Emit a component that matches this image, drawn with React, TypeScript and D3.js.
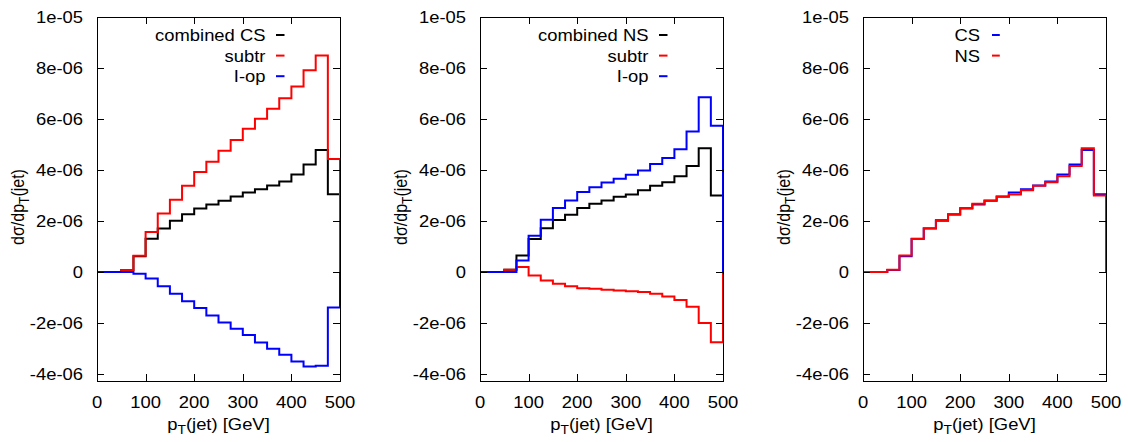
import React from 'react';
import * as d3 from 'd3';

const width = 1128;
const height = 442;
const plotTop = 17;
const plotBottom = 381;
const plotWidth = 243;
const panelLefts = [97, 480, 863];
const font = "'Liberation Sans', Arial, Helvetica, sans-serif";
const stretch = 1.15;

// lower edges of the 25 GeV bins
const binLow = [0, 25, 50, 75, 100, 125, 150, 175, 200, 225, 250, 275, 300, 325, 350, 375, 400, 425, 450, 475];
const binEnd = 500;

const xTicks = [0, 100, 200, 300, 400, 500];
const yTicks = [-4e-6, -2e-6, 0, 2e-6, 4e-6, 6e-6, 8e-6, 1e-5];
const yTickLabels = ['-4e-06', '-2e-06', '0', '2e-06', '4e-06', '6e-06', '8e-06', '1e-05'];

// values in units of 1e-6
const combinedCS = [0, 0, 0.08, 0.62, 1.31, 1.71, 2.01, 2.27, 2.49, 2.65, 2.8, 2.96, 3.12, 3.25, 3.39, 3.55, 3.83, 4.22, 4.79, 3.05];
const subtrCS = [0, 0, 0.08, 0.64, 1.57, 2.3, 2.84, 3.38, 3.92, 4.33, 4.76, 5.18, 5.62, 6.01, 6.4, 6.81, 7.28, 7.91, 8.49, 4.43];
const iopCS = [0, 0, 0, -0.07, -0.25, -0.56, -0.85, -1.14, -1.41, -1.7, -1.98, -2.22, -2.47, -2.76, -3.01, -3.24, -3.51, -3.7, -3.67, -1.39];

const combinedNS = [0, 0, 0.09, 0.65, 1.3, 1.72, 2.04, 2.25, 2.51, 2.68, 2.81, 2.95, 3.04, 3.21, 3.38, 3.52, 3.76, 4.16, 4.85, 3.0];
const subtrNS = [0, 0, 0.09, 0.2, -0.13, -0.33, -0.46, -0.56, -0.63, -0.65, -0.69, -0.72, -0.75, -0.78, -0.85, -0.96, -1.09, -1.36, -2.0, -2.75];
const iopNS = [0, 0, 0, 0.45, 1.42, 2.05, 2.51, 2.81, 3.14, 3.33, 3.51, 3.66, 3.82, 3.98, 4.24, 4.47, 4.82, 5.51, 6.85, 5.74];

const panels = [
  {
    legendEnd: 168.5, sampleStart: 179, sampleEnd: 187.5,
    series: [
      { name: 'combined CS', color: '#000000', values: combinedCS },
      { name: 'subtr', color: '#ff0000', values: subtrCS },
      { name: 'I-op', color: '#0000ff', values: iopCS },
    ],
  },
  {
    legendEnd: 168.5, sampleStart: 179, sampleEnd: 187.5,
    series: [
      { name: 'combined NS', color: '#000000', values: combinedNS },
      { name: 'subtr', color: '#ff0000', values: subtrNS },
      { name: 'I-op', color: '#0000ff', values: iopNS },
    ],
  },
  {
    legendEnd: 117, sampleStart: 129, sampleEnd: 136.8,
    series: [
      { name: 'CS', color: '#0000ff', values: combinedCS },
      { name: 'NS', color: '#ff0000', values: combinedNS },
    ],
  },
];

const yScale = d3.scaleLinear().domain([-4.27e-6, 1e-5]).range([plotBottom, plotTop]);

// horizontally stretched text, like the resized original
function Label({ x, y, anchor = 'start', rotate = false, children }: any) {
  return (
    <g transform={`translate(${x},${y}) scale(${stretch},1)${rotate ? ' rotate(-90)' : ''}`}>
      <text textAnchor={anchor} fontSize={16} fontFamily={font} fill="#000">{children}</text>
    </g>
  );
}

function Panel({ left, panel }: any) {
  const xScale = d3.scaleLinear().domain([0, binEnd]).range([left, left + plotWidth]);
  const line = d3.line<[number, number]>()
    .x(d => xScale(d[0]))
    .y(d => yScale(d[1]))
    .curve(d3.curveStepAfter);

  const right = left + plotWidth;
  const tick = 7;

  return (
    <g>
      {panel.series.map((s: any) => {
        const pts: [number, number][] = binLow.map((b, i) => [b, s.values[i] * 1e-6] as [number, number]);
        pts.push([binEnd, s.values[s.values.length - 1] * 1e-6]);
        pts.push([binEnd, 0]);
        return <path key={s.name} d={line(pts) || ''} fill="none" stroke={s.color} strokeWidth={2} />;
      })}

      {/* frame */}
      <rect x={left + 0.5} y={plotTop + 0.5} width={plotWidth} height={plotBottom - plotTop} fill="none" stroke="#000" strokeWidth={1} />

      {xTicks.map(t => (
        <g key={'x' + t}>
          <line x1={Math.round(xScale(t)) + 0.5} x2={Math.round(xScale(t)) + 0.5} y1={plotBottom} y2={plotBottom - tick} stroke="#000" />
          <line x1={Math.round(xScale(t)) + 0.5} x2={Math.round(xScale(t)) + 0.5} y1={plotTop} y2={plotTop + tick} stroke="#000" />
          <Label x={xScale(t)} y={408} anchor="middle">{t}</Label>
        </g>
      ))}

      {yTicks.map((t, i) => (
        <g key={'y' + t}>
          <line x1={left} x2={left + tick} y1={Math.round(yScale(t)) + 0.5} y2={Math.round(yScale(t)) + 0.5} stroke="#000" />
          <line x1={right} x2={right - tick} y1={Math.round(yScale(t)) + 0.5} y2={Math.round(yScale(t)) + 0.5} stroke="#000" />
          <Label x={left - 14} y={yScale(t) + 6} anchor="end">{yTickLabels[i]}</Label>
        </g>
      ))}

      {/* axis titles */}
      <g transform={`translate(${left + plotWidth / 2},430) scale(${stretch},1)`}>
        <text textAnchor="middle" fontSize={16} fontFamily={font}>
          p<tspan fontSize={12} dy={4}>T</tspan><tspan dy={-4}>(jet) [GeV]</tspan>
        </text>
      </g>
      <g transform={`translate(${left - 73},207) scale(${stretch},1) rotate(-90)`}>
        <text textAnchor="middle" fontSize={16} fontFamily={font}>
          dσ/dp<tspan fontSize={12} dy={4}>T</tspan><tspan dy={-4}>(jet)</tspan>
        </text>
      </g>

      {/* legend */}
      {panel.series.map((s: any, i: number) => {
        const base = 41 + i * 20.6;
        return (
          <g key={'l' + s.name}>
            <Label x={left + panel.legendEnd} y={base} anchor="end">{s.name}</Label>
            <line x1={left + panel.sampleStart} x2={left + panel.sampleEnd} y1={base - 6} y2={base - 6} stroke={s.color} strokeWidth={2} />
          </g>
        );
      })}
    </g>
  );
}

export default function App() {
  return (
    <svg width={width} height={height} style={{ position: 'absolute', left: 0, top: 0, background: '#fff' }}>
      <rect width={width} height={height} fill="#fff" />
      {panels.map((p, i) => (
        <Panel key={i} left={panelLefts[i]} panel={p} />
      ))}
    </svg>
  );
}
